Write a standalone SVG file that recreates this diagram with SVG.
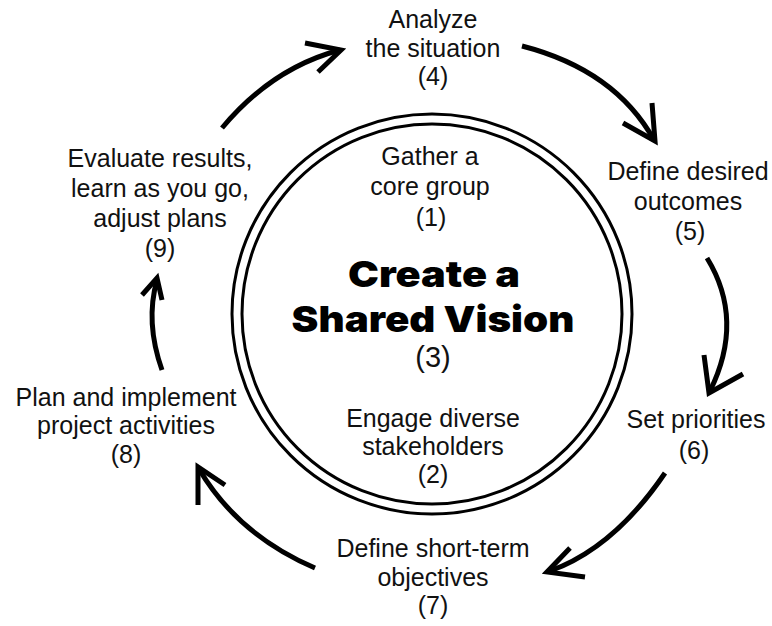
<svg xmlns="http://www.w3.org/2000/svg" width="772" height="626" viewBox="0 0 772 626">
<style>
  .t { font-family: "Liberation Sans", Arial, sans-serif; font-size: 25px; fill: #111; text-anchor: middle; }
  .title { font-family: Inter, "Liberation Sans", sans-serif; font-weight: 900; font-size: 36px; fill: #000; text-anchor: middle; }
  .num3 { font-family: "Liberation Sans", Arial, sans-serif; font-size: 29px; fill: #111; text-anchor: middle; }
  .ring { fill: none; stroke: #000; stroke-width: 3; }
  .arr { fill: none; stroke: #000; stroke-width: 5; stroke-linecap: butt; stroke-linejoin: miter; }
</style>
<rect width="772" height="626" fill="#fff"/>
<g id="center">
  <circle class="ring" cx="432" cy="314" r="200"/>
  <circle class="ring" cx="432" cy="314" r="190"/>
  <text class="t" x="430" y="165">Gather a</text>
  <text class="t" x="430" y="195">core group</text>
  <text class="t" x="431" y="226">(1)</text>
  <text class="title" transform="translate(434,287) scale(1.15,1)">Create a</text>
  <text class="title" transform="translate(433,332) scale(1.12,1)">Shared Vision</text>
  <text class="num3" x="433" y="367">(3)</text>
  <text class="t" x="433" y="427">Engage diverse</text>
  <text class="t" x="433" y="455">stakeholders</text>
  <text class="t" x="433" y="483">(2)</text>
</g>
<g id="node4">
  <text class="t" x="433" y="28">Analyze</text>
  <text class="t" x="433" y="57">the situation</text>
  <text class="t" x="433" y="85">(4)</text>
</g>
<g id="node5">
  <text class="t" x="688" y="180">Define desired</text>
  <text class="t" x="688" y="210">outcomes</text>
  <text class="t" x="690" y="240">(5)</text>
</g>
<g id="node6">
  <text class="t" x="696" y="428">Set priorities</text>
  <text class="t" x="694" y="459">(6)</text>
</g>
<g id="node7">
  <text class="t" x="433" y="557">Define short-term</text>
  <text class="t" x="433" y="586">objectives</text>
  <text class="t" x="433" y="614">(7)</text>
</g>
<g id="node8">
  <text class="t" x="126" y="406">Plan and implement</text>
  <text class="t" x="126" y="434">project activities</text>
  <text class="t" x="126" y="463">(8)</text>
</g>
<g id="node9">
  <text class="t" x="160" y="167">Evaluate results,</text>
  <text class="t" x="160" y="197">learn as you go,</text>
  <text class="t" x="160" y="227">adjust plans</text>
  <text class="t" x="160" y="257">(9)</text>
</g>
<g id="connectors">
  <path class="arr" d="M222,128 Q272,68 340,50"/>
  <path class="arr" d="M305,43 L341,50 L318,72"/>
  <path class="arr" d="M522,46 Q615,70 654,140"/>
  <path class="arr" d="M652,103 L655,141 L623,123"/>
  <path class="arr" d="M707,258 Q745,320 710,391"/>
  <path class="arr" d="M704,355 L709,393 L743,374"/>
  <path class="arr" d="M665,473 Q614,548 550,571"/>
  <path class="arr" d="M570,548 L547,572 L585,577"/>
  <path class="arr" d="M315,568 Q238,535 199,469"/>
  <path class="arr" d="M198,505 L198,467 L225,485"/>
  <path class="arr" d="M162,370 Q145,322 157,280"/>
  <path class="arr" d="M142,295 L157,278 L162,300"/>
</g>
</svg>
